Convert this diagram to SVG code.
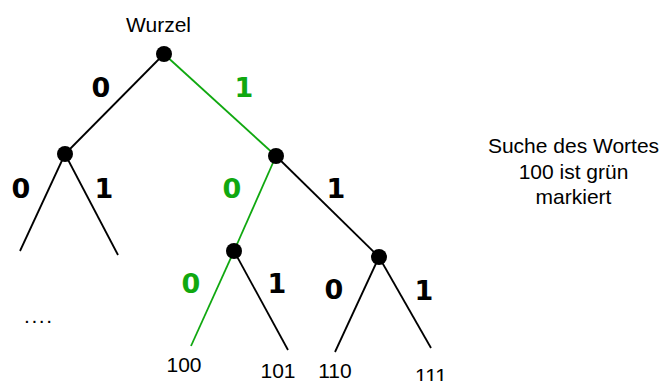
<svg xmlns="http://www.w3.org/2000/svg" width="672" height="381" viewBox="0 0 672 381">
<style>
.e{stroke:#000;stroke-width:1.8;fill:none}
.g{stroke:#10a810}
.n{fill:#000}
.b{font-family:"DejaVu Sans",Verdana,sans-serif;font-weight:bold;font-size:27px;text-anchor:middle}
.gt{fill:#10a810}
.t{font-family:"Liberation Sans",Arial,sans-serif;font-size:21px;text-anchor:middle}
.s{font-family:"Liberation Sans",Arial,sans-serif;font-size:21px;text-anchor:middle}
</style>
<rect width="672" height="381" fill="#fff"/>
<g id="connectors">
<line class="e" x1="164" y1="54" x2="65" y2="154"/>
<line class="e g" x1="164" y1="54" x2="276" y2="156"/>
<line class="e" x1="65" y1="154" x2="20" y2="251"/>
<line class="e" x1="65" y1="154" x2="118" y2="255"/>
<line class="e g" x1="276" y1="156" x2="234" y2="251"/>
<line class="e" x1="276" y1="156" x2="379" y2="257"/>
<line class="e g" x1="234" y1="251" x2="191" y2="346"/>
<line class="e" x1="234" y1="251" x2="288" y2="350"/>
<line class="e" x1="379" y1="257" x2="335" y2="352"/>
<line class="e" x1="379" y1="257" x2="431" y2="348"/>
</g>
<g id="labels">
<text class="b" x="101" y="97">0</text>
<text class="b gt" x="244" y="97">1</text>
<text class="b" x="21" y="198">0</text>
<text class="b" x="104" y="198">1</text>
<text class="b gt" x="232" y="198">0</text>
<text class="b" x="336" y="198">1</text>
<text class="b gt" x="191" y="293">0</text>
<text class="b" x="277" y="293">1</text>
<text class="b" x="334" y="299">0</text>
<text class="b" x="424" y="300">1</text>
</g>
<g id="root"><circle class="n" cx="164" cy="54" r="8"/><text class="t" x="158.5" y="32">Wurzel</text></g>
<g id="n0"><circle class="n" cx="65" cy="154" r="8"/></g>
<g id="n1"><circle class="n" cx="276" cy="156" r="8"/></g>
<g id="n10"><circle class="n" cx="234" cy="251" r="8"/></g>
<g id="n11"><circle class="n" cx="379" cy="257" r="8"/></g>
<g id="dots"><text class="s" x="24" y="323" style="text-anchor:start;letter-spacing:1.6px">....</text></g>
<g id="l100"><text class="s" x="184" y="372">100</text></g>
<g id="l101"><text class="s" x="278" y="378">101</text></g>
<g id="l110"><text class="s" x="335" y="378">110</text></g>
<g id="l111"><text class="s" x="431" y="383">111</text></g>
<g id="note">
<text class="t" x="573.5" y="153">Suche des Wortes</text>
<text class="t" x="573.5" y="179">100 ist grün</text>
<text class="t" x="573.5" y="204">markiert</text>
</g>
</svg>
